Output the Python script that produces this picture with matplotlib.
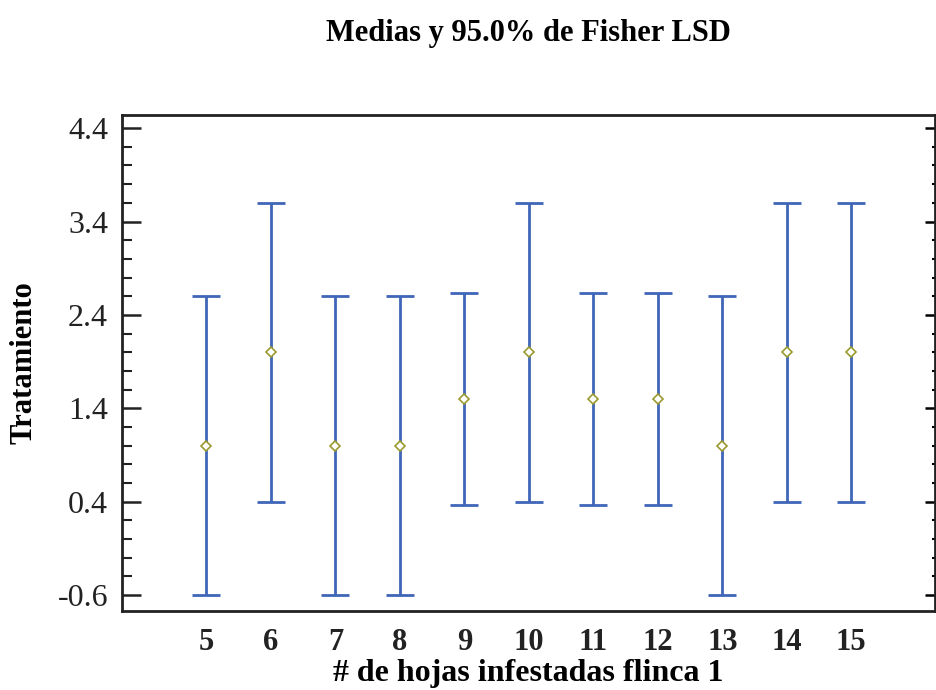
import matplotlib.pyplot as plt
import numpy as np
from matplotlib.ticker import MultipleLocator

# categories and Fisher LSD intervals
hojas = [5, 6, 7, 8, 9, 10, 11, 12, 13, 14, 15]
medias = [1.0, 2.0, 1.0, 1.0, 1.5, 2.0, 1.5, 1.5, 1.0, 2.0, 2.0]
inferior = [-0.6, 0.4, -0.6, -0.6, 0.37, 0.4, 0.37, 0.37, -0.6, 0.4, 0.4]
superior = [2.6, 3.6, 2.6, 2.6, 2.63, 3.6, 2.63, 2.63, 2.6, 3.6, 3.6]

plt.rcParams['font.family'] = ['Liberation Serif', 'DejaVu Serif']

fig = plt.figure(figsize=(9.36, 6.9), dpi=100)
ax = fig.add_axes([0.1303, 0.1145, 0.8687, 0.7188])

medias = np.array(medias)
err = [medias - np.array(inferior), np.array(superior) - medias]
ax.errorbar(hojas, medias, yerr=err, fmt='none', ecolor='#3f66b8',
            elinewidth=2, capsize=10, capthick=2)
ax.plot(hojas, medias, linestyle='none', marker='D', markersize=5.5,
        markerfacecolor='white', markeredgecolor='#9a9a30', markeredgewidth=1.2)

ax.set_xlim(3.69, 16.3)
ax.set_ylim(-0.77, 4.54)
ax.set_yticks([-0.6, 0.4, 1.4, 2.4, 3.4, 4.4])
ax.set_yticklabels(['-0.6', '0.4', '1.4', '2.4', '3.4', '4.4'])
ax.yaxis.set_minor_locator(MultipleLocator(0.2))
ax.set_xticks(hojas)
ax.set_xticklabels([str(h) for h in hojas], fontweight='bold')

ax.tick_params(axis='y', which='major', direction='in', length=14, width=1.8,
               labelsize=23, pad=10, colors='#222222')
ax.tick_params(axis='y', which='minor', direction='in', length=7, width=1.5,
               colors='#222222')
ax.tick_params(axis='x', length=0, labelsize=22, pad=12, colors='#222222')

sec = ax.secondary_yaxis('right')
sec.set_yticks([-0.6, 0.4, 1.4, 2.4, 3.4, 4.4])
sec.yaxis.set_minor_locator(MultipleLocator(0.2))
sec.tick_params(which='major', direction='in', length=7, width=1.8, labelright=False)
sec.tick_params(which='minor', direction='in', length=2, width=1.5)
sec.spines['right'].set_visible(False)

for s in ax.spines.values():
    s.set_linewidth(2)
    s.set_color('#222222')

ax.set_ylabel('Tratamiento', fontsize=22, fontweight='bold', labelpad=14)
ax.set_xlabel('# de hojas infestadas flinca 1', fontsize=23, fontweight='bold', labelpad=2)
fig.suptitle('Medias y 95.0% de Fisher LSD', x=0.565, y=0.972, fontsize=22, fontweight='bold')

fig.savefig('out.png', dpi=100)
